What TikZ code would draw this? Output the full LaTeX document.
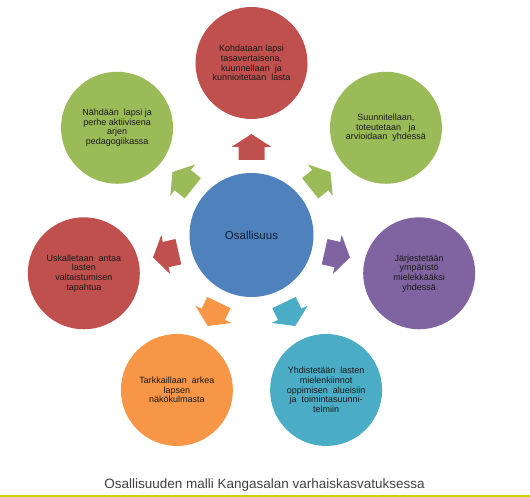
\documentclass[tikz,border=0pt]{standalone}
\usepackage{fontspec}
\setmainfont{Liberation Sans}
\definecolor{cred}{HTML}{C0504D}
\definecolor{cgreen}{HTML}{9BBB59}
\definecolor{cpurple}{HTML}{8064A2}
\definecolor{corange}{HTML}{F79646}
\definecolor{cteal}{HTML}{4BACC6}
\definecolor{cblue}{HTML}{4F81BD}
\definecolor{navytext}{HTML}{14203C}
\definecolor{txt}{HTML}{1A1A1A}
\definecolor{captxt}{HTML}{404040}
\definecolor{lime}{RGB}{200,212,0}
\tikzset{
  outer/.style={circle, fill=#1, minimum size=112pt, inner sep=0pt, align=center,
    text=txt, font=\fontsize{9}{9.6}\selectfont},
  hub/.style={circle, fill=cblue, minimum size=124pt, inner sep=0pt,
    text=navytext, font=\fontsize{11.5}{13}\selectfont},
  caption/.style={text=captxt, font=\fontsize{13.5}{16}\selectfont, inner sep=0pt}
}
\begin{document}
\begin{tikzpicture}[x=1pt,y=1pt]
\useasboundingbox (0,0) rectangle (530,-497);
\coordinate (c) at (251.5,-235);
\node[hub] (hub) at (c) {Osallisuus};

\node[outer=cred] (n1) at ([shift={(90:172)}]c)
  {Kohdataan lapsi\\tasavertaisena,\\kuunnellaan\ \ ja\\kunnioitetaan\ \ lasta};
\node[outer=cgreen] (n2) at ([shift={(38.57:172)}]c)
  {Suunnitellaan,\\toteutetaan\ \ \ ja\\arvioidaan\ \ yhdessä};
\node[outer=cpurple] (n3) at ([shift={(-12.86:172)}]c)
  {Järjestetään\\ympäristö\\mielekkääksi\\yhdessä};
\node[outer=cteal] (n4) at ([shift={(-64.29:172)}]c)
  {Yhdistetään\ \ lasten\\mielenkiinnot\\oppimisen\ \ alueisiin\\ja\ \ toimintasuunni-\\telmiin};
\node[outer=corange] (n5) at ([shift={(-115.71:172)}]c)
  {Tarkkaillaan\ \ arkea\\lapsen\\näkökulmasta};
\node[outer=cred] (n6) at ([shift={(-167.14:172)}]c)
  {Uskalletaan\ \ antaa\\lasten\\valtaistumisen\\tapahtua};
\node[outer=cgreen] (n7) at ([shift={(141.43:172)}]c)
  {Nähdään\ \ lapsi\ ja\\perhe aktiivisena\\arjen\\pedagogiikassa};

\foreach \a/\col in {90/cred, 38.57/cgreen, -12.86/cpurple, -64.29/cteal,
                     -115.71/corange, -167.14/cred, 141.43/cgreen}{
  \fill[\col, shift={(c)}, rotate=\a]
    (75,-13) -- (88,-13) -- (88,-20) -- (101,0) -- (88,20) -- (88,13) -- (75,13) -- cycle;
}

\node[caption, anchor=base] (cap) at (264.5,-488)
  {Osallisuuden malli Kangasalan varhaiskasvatuksessa};
\coordinate (l1) at (0,-495.8);
\coordinate (l2) at (530,-495.8);
\draw[lime, line width=1.5pt] (l1) -- (l2);
\end{tikzpicture}
\end{document}
